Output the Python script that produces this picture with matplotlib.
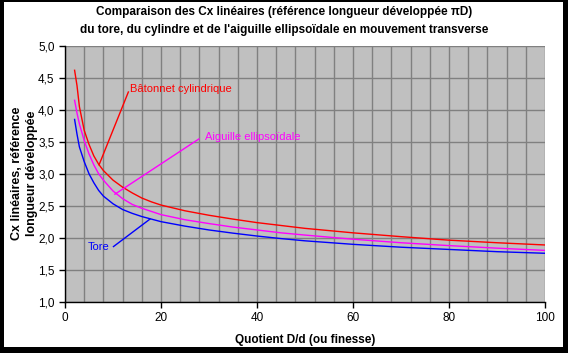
import matplotlib
matplotlib.use("Agg")
import matplotlib.pyplot as plt
from matplotlib.patches import Rectangle
from matplotlib.ticker import FuncFormatter, MultipleLocator

plt.rcParams['font.family'] = ['Liberation Sans', 'DejaVu Sans']

finesse = [2, 2.5, 3, 4, 5, 6, 7, 8, 10, 12, 14, 16, 18, 20, 25, 30, 35, 40, 45, 50, 60, 70, 80, 90, 100]
cx_cylindre = [4.62, 4.38, 4.05, 3.68, 3.46, 3.28, 3.15, 3.05, 2.90, 2.79, 2.70, 2.62, 2.56, 2.51,
               2.42, 2.35, 2.29, 2.235, 2.19, 2.145, 2.075, 2.015, 1.96, 1.92, 1.885]
cx_aiguille = [4.15, 3.95, 3.78, 3.52, 3.31, 3.14, 3.00, 2.90, 2.73, 2.61, 2.52, 2.46, 2.41, 2.36,
               2.28, 2.22, 2.165, 2.12, 2.075, 2.04, 1.975, 1.92, 1.875, 1.835, 1.80]
cx_tore = [3.85, 3.62, 3.42, 3.19, 3.00, 2.86, 2.74, 2.65, 2.53, 2.44, 2.38, 2.33, 2.29, 2.25,
           2.18, 2.12, 2.07, 2.025, 1.985, 1.95, 1.895, 1.85, 1.815, 1.78, 1.755]

title = "Comparaison des Cx linéaires (référence longueur développée πD)\ndu tore, du cylindre et de l'aiguille ellipsoïdale en mouvement transverse"
xlabel = "Quotient D/d (ou finesse)"
ylabel = "Cx linéaires, référence\nlongueur développée"

fig = plt.figure(figsize=(5.68, 3.53), dpi=100)
fig.patch.set_facecolor('black')
W, H = 568.0, 353.0
bg = Rectangle((4 / W, 1 - 347 / H), (563 - 4) / W, (347 - 2) / H,
               transform=fig.transFigure, facecolor='white', edgecolor='none', zorder=-10)
fig.patches.append(bg)

ax = fig.add_axes([65 / W, 1 - 301.5 / H, 480 / W, 255.5 / H])
ax.set_facecolor('#C0C0C0')
ax.set_xlim(0, 100)
ax.set_ylim(1.0, 5.0)

ax.xaxis.set_major_locator(MultipleLocator(20))
ax.xaxis.set_minor_locator(MultipleLocator(4))
ax.yaxis.set_major_locator(MultipleLocator(0.5))
ax.grid(True, which='both', axis='x', color='#808080', linewidth=1)
ax.grid(True, which='major', axis='y', color='#808080', linewidth=1)
ax.set_axisbelow(True)
ax.tick_params(axis='x', which='minor', length=0)
ax.tick_params(axis='both', which='major', length=4, width=1, color='black', labelsize=8.5, direction='out')
ax.yaxis.set_major_formatter(FuncFormatter(lambda v, p: f"{v:.1f}".replace('.', ',')))
for s in ['top', 'right']:
    ax.spines[s].set_visible(False)
for s in ['left', 'bottom']:
    ax.spines[s].set_color('black')
    ax.spines[s].set_linewidth(1)

ax.plot(finesse, cx_cylindre, color='#FF0000', linewidth=1)
ax.plot(finesse, cx_aiguille, color='#FF00FF', linewidth=1)
ax.plot(finesse, cx_tore, color='#0000FF', linewidth=1)

# leader lines and labels
ax.plot([7.1, 13.2], [3.14, 4.28], color='#FF0000', lw=1)
ax.text(13.5, 4.33, "Bâtonnet cylindrique", color='#FF0000', fontsize=8, va='center', ha='left')
ax.plot([10.4, 27.9], [2.68, 3.545], color='#FF00FF', lw=1)
ax.text(29.2, 3.58, "Aiguille ellipsoïdale", color='#FF00FF', fontsize=8, va='center', ha='left')
ax.plot([10.1, 17.7], [1.86, 2.29], color='#0000FF', lw=1)
ax.text(9.2, 1.855, "Tore", color='#0000FF', fontsize=8, va='center', ha='right')

fig.text(0.5, 1 - 21 / H, title, ha='center', va='center', fontsize=8.5, fontweight='bold',
         linespacing=1.75)
ax.set_xlabel(xlabel, fontsize=8.5, fontweight='bold', labelpad=7)
ax.set_ylabel(ylabel, fontsize=9, fontweight='bold', linespacing=1.3)
ax.yaxis.set_label_coords(-0.056, 0.5)

fig.savefig("out.png", dpi=100, facecolor=fig.get_facecolor())
